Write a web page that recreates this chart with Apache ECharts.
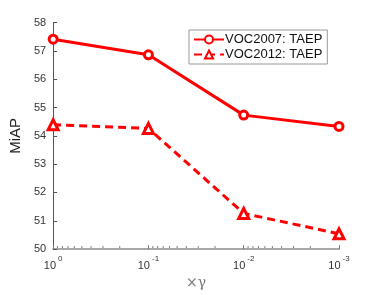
<!DOCTYPE html>
<html>
<head>
<meta charset="utf-8">
<script src="https://cdn.jsdelivr.net/npm/echarts@6/dist/echarts.min.js"></script>
<style>html,body{margin:0;padding:0;background:#fff;}#c{width:374px;height:295px;}</style>
</head>
<body>
<div id="c"></div>
<script>
var gammaValues = [1, 0.1, 0.01, 0.001];
var voc2007 = [57.41, 56.86, 54.73, 54.33];
var voc2012 = [54.39, 54.26, 51.26, 50.54];
var seriesNames = ['VOC2007: TAEP', 'VOC2012: TAEP'];
var minorTickValues = [];
[0.001, 0.01, 0.1].forEach(function (d) { for (var k = 2; k <= 9; k++) minorTickValues.push(k * d); });

var FONT = 'Liberation Sans, Arial, Helvetica, sans-serif';
var chart = echarts.init(document.getElementById('c'), null, {renderer: 'canvas'});
function pairs(vals) { return gammaValues.map(function (g, i) { return [g, vals[i]]; }); }

var option = {
  animation: false,
  backgroundColor: '#fff',
  grid: {left: 48.5, right: 35, top: 22.5, bottom: 36.7, containLabel: false},
  legend: {
    left: 189, top: 30,
    orient: 'vertical',
    backgroundColor: '#fff',
    borderColor: '#999',
    borderWidth: 1,
    borderRadius: 0,
    padding: [3, 5, 3, 4],
    itemGap: 2,
    itemWidth: 30,
    itemHeight: 10,
    textStyle: {fontFamily: FONT, fontSize: 13, color: '#111', padding: [0, 0, 0, -4]},
    data: seriesNames
  },
  xAxis: {
    type: 'log', logBase: 10, min: 0.001, max: 1, inverse: true,
    name: '\u00d7\u03b3', nameLocation: 'middle', nameGap: 26,
    nameTextStyle: {fontFamily: 'DejaVu Serif, serif', fontSize: 14, color: '#777'},
    axisLine: {show: true, lineStyle: {color: '#a8a8a8', width: 2}},
    axisTick: {show: true, inside: true, length: 4, lineStyle: {color: '#777', width: 1}},
    splitLine: {show: false},
    minorTick: {show: false},
    axisLabel: {
      margin: 6,
      formatter: function (v) {
        var e = Math.round(Math.log10(v));
        return '{b|10}{s|' + (e === 0 ? '0' : String(e)) + '}';
      },
      rich: {
        b: {fontFamily: FONT, fontSize: 11, color: '#333', lineHeight: 16, verticalAlign: 'bottom'},
        s: {fontFamily: FONT, fontSize: 8, color: '#333', verticalAlign: 'top', padding: [0, 0, 0, 2]}
      }
    }
  },
  yAxis: {
    type: 'value', min: 50, max: 58, interval: 1,
    name: 'MiAP', nameLocation: 'middle', nameGap: 23,
    nameTextStyle: {fontFamily: FONT, fontSize: 15, color: '#222'},
    axisLine: {show: true, lineStyle: {color: '#555', width: 1}},
    axisTick: {show: true, inside: true, length: 4, lineStyle: {color: '#555', width: 1}},
    splitLine: {show: false},
    axisLabel: {fontFamily: FONT, fontSize: 11, color: '#333', margin: 7}
  },
  series: [
    {
      name: seriesNames[0], type: 'line', data: pairs(voc2007),
      symbol: 'circle', symbolSize: 8, showAllSymbol: true,
      lineStyle: {color: '#ff0000', width: 3},
      itemStyle: {color: '#fff', borderColor: '#ff0000', borderWidth: 3}
    },
    {
      name: seriesNames[1], type: 'line', data: pairs(voc2012),
      symbol: 'triangle', symbolSize: 10, showAllSymbol: true,
      lineStyle: {color: '#ff0000', width: 3, type: [8, 5]},
      itemStyle: {color: '#fff', borderColor: '#ff0000', borderWidth: 3}
    }
  ]
};
chart.setOption(option);

function drawMinor() {
  var y0 = chart.convertToPixel({yAxisIndex: 0}, 50);
  var els = minorTickValues.map(function (v) {
    var x = chart.convertToPixel({xAxisIndex: 0}, v);
    return {type: 'line', silent: true, z: 5,
      shape: {x1: x, y1: y0 - 1, x2: x, y2: y0 - 3},
      style: {stroke: '#777', lineWidth: 1}};
  });
  chart.setOption({graphic: els});
}
drawMinor();
</script>
</body>
</html>
